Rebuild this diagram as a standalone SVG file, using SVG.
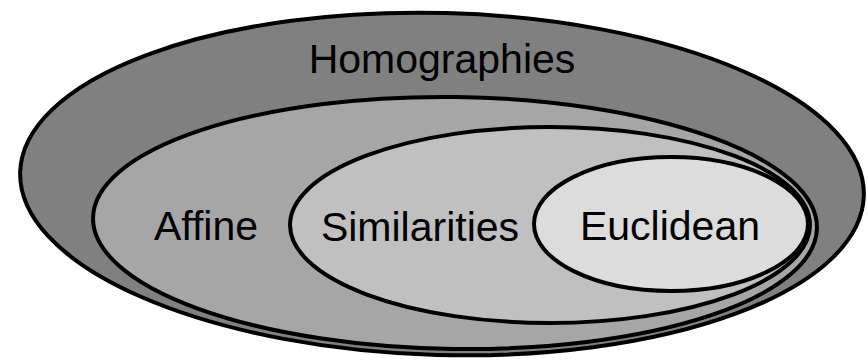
<svg xmlns="http://www.w3.org/2000/svg" width="868" height="360" viewBox="0 0 868 360">
<style>
.set{stroke:#000;stroke-width:4}
.lbl{font-family:"Liberation Sans",Arial,sans-serif;font-size:41px;fill:#000;text-anchor:middle}
</style>
<rect width="868" height="360" fill="#fff"/>
<g id="homographies">
<ellipse class="set" cx="442" cy="184" rx="422" ry="171" fill="#808080" transform="rotate(1.6 442 184)"/>
<text class="lbl" x="442" y="73">Homographies</text>
</g>
<g id="affine">
<ellipse class="set" cx="455" cy="223" rx="362" ry="126" fill="#a6a6a6" transform="rotate(0.8 455 223)"/>
<text class="lbl" x="206" y="240">Affine</text>
</g>
<g id="similarities">
<ellipse class="set" cx="550" cy="225" rx="260" ry="98" fill="#c0c0c0"/>
<text class="lbl" x="420" y="241">Similarities</text>
</g>
<g id="euclidean">
<ellipse class="set" cx="671" cy="224" rx="137" ry="67" fill="#dcdcdc"/>
<text class="lbl" x="670" y="240">Euclidean</text>
</g>
<g id="connectors"></g>
</svg>
